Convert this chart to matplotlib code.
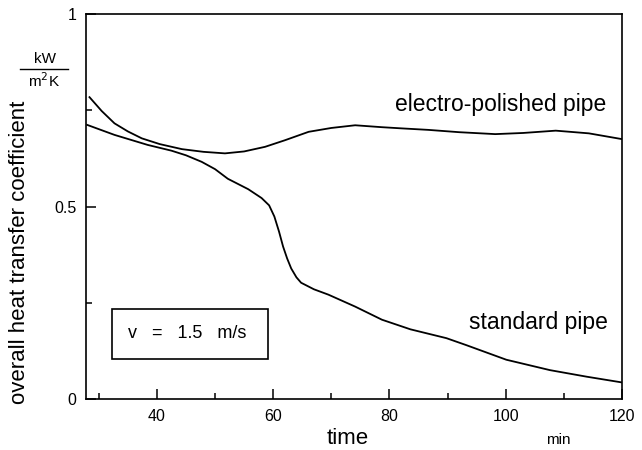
import matplotlib
matplotlib.use("Agg")
import matplotlib.pyplot as plt
from matplotlib.ticker import MultipleLocator, FixedLocator
from matplotlib.patches import Rectangle

plt.rcParams['font.family'] = ['Liberation Sans', 'DejaVu Sans']

# values (time in min, k in kW/m2K)
t_polished = [28.4, 30.5, 32.7, 35.0, 37.4, 40.5, 44.3, 48.0, 51.7, 55.0, 58.6, 62.0,
              66.1, 70.0, 74.1, 78.7, 82.0, 86.7, 92.0, 98.2, 103.0, 108.6, 114.3, 120.0]
k_polished = [0.784, 0.748, 0.716, 0.695, 0.677, 0.662, 0.649, 0.642, 0.638, 0.643, 0.655, 0.672,
              0.694, 0.704, 0.711, 0.706, 0.703, 0.699, 0.693, 0.688, 0.691, 0.697, 0.690, 0.675]

t_standard = [28.0, 32.7, 38.4, 42.5, 45.0, 47.7, 50.0, 52.2, 55.7, 58.0, 59.3, 60.2, 61.0, 61.7,
              62.4, 63.1, 64.0, 64.8, 67.0, 69.5, 74.1, 78.7, 83.6, 89.8, 93.2, 100.1, 107.6,
              113.9, 120.0]
k_standard = [0.712, 0.686, 0.660, 0.645, 0.633, 0.616, 0.597, 0.572, 0.545, 0.522, 0.503, 0.474,
              0.435, 0.396, 0.365, 0.339, 0.316, 0.302, 0.285, 0.271, 0.240, 0.206, 0.181, 0.158,
              0.140, 0.102, 0.075, 0.058, 0.043]

x_major = [40, 60, 80, 100, 120]
y_major = [0, 0.5, 1]
y_labels = ["0", "0.5", "1"]

fig = plt.figure(figsize=(6.42, 4.5), dpi=100)
ax = fig.add_axes([86 / 642, 51 / 450, 536 / 642, 385 / 450])

ax.plot(t_polished, k_polished, color="black", lw=1.3)
ax.plot(t_standard, k_standard, color="black", lw=1.3)

ax.set_xlim(27.8, 120)
ax.set_ylim(0, 1)

ax.xaxis.set_major_locator(FixedLocator(x_major))
ax.xaxis.set_minor_locator(MultipleLocator(10))
ax.yaxis.set_major_locator(FixedLocator(y_major))
ax.yaxis.set_minor_locator(FixedLocator([0.25, 0.75]))
ax.set_yticklabels(y_labels)
ax.tick_params(which="both", direction="in", top=False, right=False, labelsize=11.5, width=1.1)
ax.tick_params(which="major", length=7)
ax.tick_params(which="minor", length=4)
ax.tick_params(axis="x", pad=7)
ax.tick_params(axis="y", pad=7)
for s in ax.spines.values():
    s.set_linewidth(1.2)

ax.set_ylabel("overall heat transfer coefficient", fontsize=16)
ax.yaxis.set_label_coords(-0.104, 0.38)

# units as a fraction
fig.text(45 / 642, 1 - 59 / 450, "kW", fontsize=11, ha="center", va="center")
fig.add_artist(plt.Line2D([20 / 642, 68 / 642], [1 - 69 / 450, 1 - 69 / 450], color="black", lw=1))
fig.text(44 / 642, 1 - 81 / 450, "m$^2$K", fontsize=11, ha="center", va="center")

fig.text(348 / 642, 1 - 438 / 450, "time", fontsize=16, ha="center", va="center")
fig.text(558 / 642, 1 - 440 / 450, "min", fontsize=11, ha="center", va="center")

ax.text(0.970, 0.764, "electro-polished pipe", transform=ax.transAxes, fontsize=16.5,
        ha="right", va="center")
ax.text(0.974, 0.200, "standard pipe", transform=ax.transAxes, fontsize=16.5,
        ha="right", va="center")

# velocity box
ax.add_patch(Rectangle(((112 - 86) / 536, (399 - 359) / 385), 156 / 536, 50 / 385,
                       transform=ax.transAxes, fill=False, lw=1.2, ec="black"))
ax.text((187 - 86) / 536, (399 - 334) / 385, "v   =   1.5   m/s", transform=ax.transAxes,
        fontsize=13, ha="center", va="center")

fig.savefig("out.png", dpi=100)
